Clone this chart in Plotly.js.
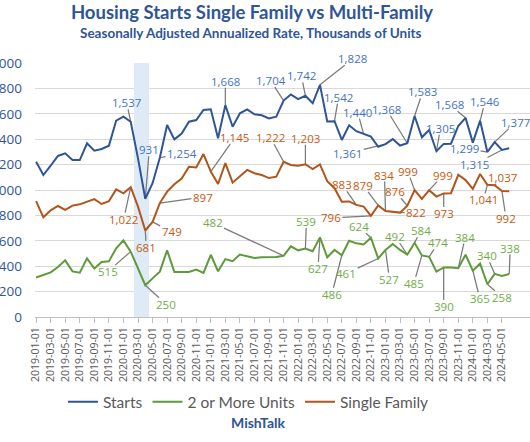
<!DOCTYPE html>
<html>
<head>
<meta charset="utf-8">
<script src="https://cdn.plot.ly/plotly-3.0.1.min.js"></script>
<style>
html,body{margin:0;padding:0;width:530px;height:442px;overflow:hidden;background:#fff;}
#chart{position:absolute;left:-20px;top:0;width:620px;height:442px;}
</style>
</head>
<body>
<div id="chart"></div>
<script>
// ---- data (thousands of units, SAAR) ----
const months = [
"2019-01-01","2019-02-01","2019-03-01","2019-04-01","2019-05-01","2019-06-01","2019-07-01","2019-08-01","2019-09-01","2019-10-01","2019-11-01","2019-12-01",
"2020-01-01","2020-02-01","2020-03-01","2020-04-01","2020-05-01","2020-06-01","2020-07-01","2020-08-01","2020-09-01","2020-10-01","2020-11-01","2020-12-01",
"2021-01-01","2021-02-01","2021-03-01","2021-04-01","2021-05-01","2021-06-01","2021-07-01","2021-08-01","2021-09-01","2021-10-01","2021-11-01","2021-12-01",
"2022-01-01","2022-02-01","2022-03-01","2022-04-01","2022-05-01","2022-06-01","2022-07-01","2022-08-01","2022-09-01","2022-10-01","2022-11-01","2022-12-01",
"2023-01-01","2023-02-01","2023-03-01","2023-04-01","2023-05-01","2023-06-01","2023-07-01","2023-08-01","2023-09-01","2023-10-01","2023-11-01","2023-12-01",
"2024-01-01","2024-02-01","2024-03-01","2024-04-01","2024-05-01","2024-06-01"];

const starts = [1223,1118,1191,1268,1289,1236,1236,1368,1310,1323,1349,1546,
1577,1537,1249,931,1053,1254,1512,1399,1445,1538,1551,1630,
1635,1407,1668,1498,1604,1635,1596,1588,1564,1577,1704,1753,
1716,1742,1683,1828,1540,1542,1394,1510,1463,1440,1420,1340,
1361,1401,1350,1368,1583,1415,1473,1305,1363,1365,1504,1568,
1373,1546,1299,1377,1315,1328];

const multiUnits = [311,333,351,394,446,359,349,462,382,433,438,541,
603,515,380,250,304,357,525,354,355,355,373,347,
490,360,456,440,492,477,464,470,470,472,482,556,
525,539,518,627,470,528,486,600,580,571,624,461,
527,575,528,492,584,485,474,357,390,390,384,490,
365,420,258,340,323,338];

const singleFamily = [912,785,840,874,843,877,887,906,928,890,911,1005,
974,1022,869,681,749,897,987,1045,1090,1183,1178,1283,
1145,1047,1212,1058,1112,1158,1132,1118,1094,1105,1222,1197,
1191,1203,1165,1201,1070,1014,908,910,883,869,796,879,
834,826,822,876,999,930,999,948,973,975,1120,1078,
1008,1126,1041,1037,992,990];

const recessionMonths = ["2020-03-01","2020-04-01"];
const recessionLevel = [2000,2000];

// labelled points (index into months)
const startsLabelIdx = [13,15,17,26,34,37,39,41,45,48,51,52,55,59,61,62,63,64];
const singleLabelIdx = [13,15,16,17,24,34,37,44,46,47,48,50,51,52,54,56,62,63,64];
const multiLabelIdx  = [13,15,34,37,39,42,46,47,48,51,52,53,54,56,58,60,62,63,65];

// ---- label placement (pixel offsets of label centre from point: [dx, dy], dy downwards) ----
const startsOff = {13:[-4,-19],15:[4,-49],17:[22,-4],26:[0,-24],34:[-13,-20],37:[-4,-20],39:[33,-26],
  41:[4,-24],45:[-6,-22],48:[-38,9],51:[-21,-34],52:[8,-24],55:[4,-23],59:[-16,-13],61:[5,-19],
  62:[-23,-4],63:[21,-20],64:[-27,14]};
const singleOff = {13:[-7,32],15:[1,17],16:[19,10],17:[43,-6],24:[24,-34],34:[-13,-24],37:[0,-26],
  44:[-14,-20],46:[-40,2],47:[-15,-20],48:[-1,-36],50:[16,0],51:[-12,-14],52:[-7,-19],54:[14,-15],
  56:[0,20],62:[-4,15],63:[8,-8],64:[4,27]};
const multiOff = {13:[-23,20],15:[21,19],34:[-71,-33],37:[1,-27],39:[-2,31],42:[-10,39],46:[-12,-11],
  47:[-32,15],48:[4,29],51:[-12,-18],52:[6,-12],53:[-8,28],54:[9,-14],56:[0,39],58:[7,-31],
  60:[7,28],62:[15,13],63:[-8,-18],65:[1,-26]};

const C = {
  startsLine:'#2F5597', startsText:'#4472C4',
  multiLine:'#5E9A3A', multiText:'#70AD47',
  singleLine:'#B0551B', singleText:'#C55A11',
  title:'#2F5597', grid:'#D9D9D9', axisText:'#595959', band:'#DEEBF7', leader:'#7A7A7A'
};
const W = 620, H = 442;
const M = {l:55, r:30, t:63, b:125};
const LABEL_SIZE = 11.5;
const X_RANGE = [-0.15, 73.35];
const Y_RANGE = [0, 2000];
const PX_X = (W - M.l - M.r) / (X_RANGE[1] - X_RANGE[0]);
const PX_Y = (H - M.t - M.b) / (Y_RANGE[1] - Y_RANGE[0]);

const fmt = v => v.toLocaleString('en-US');
const idx = months.map((m,i) => i);
const tickIdx = idx.filter(i => i%2===0);
const recessionIdx = recessionMonths.map(m => months.indexOf(m));

function makeLabels(idxs, vals, offs, color){
  return idxs.map(i => ({
    x: i, y: vals[i], xref:'x', yref:'y',
    text: fmt(vals[i]), showarrow:false,
    xshift: offs[i][0], yshift: -offs[i][1], xanchor:'center', yanchor:'middle',
    font:{family:'Open Sans, sans-serif', size:LABEL_SIZE, color:color}
  }));
}

// leader line from each point to the edge of its label box
function leaderTrace(idxs, vals, offs){
  const xs = [], ys = [];
  idxs.forEach(i => {
    const dx = offs[i][0], dy = offs[i][1];
    const txt = fmt(vals[i]);
    const digits = txt.replace(/,/g,'').length;
    const hw = (digits*6.6 + (txt.indexOf(',')>=0 ? 3 : 0))/2 + 1.5;
    const hh = 6.5;
    const sx = dx !== 0 ? hw/Math.abs(dx) : Infinity;
    const sy = dy !== 0 ? hh/Math.abs(dy) : Infinity;
    const t = 1 - Math.min(sx, sy);
    if (t <= 0.08) return;
    xs.push(i, i + dx*t/PX_X, null);
    ys.push(vals[i], vals[i] - dy*t/PX_Y, null);
  });
  return {type:'scatter', mode:'lines', x:xs, y:ys,
    line:{color:C.leader, width:1.25}, showlegend:false, hoverinfo:'skip', connectgaps:false};
}

const traces = [
  {type:'bar', x:recessionIdx, y:recessionLevel, width:1, marker:{color:C.band, line:{width:0}},
   showlegend:false, hoverinfo:'skip'},
  leaderTrace(startsLabelIdx, starts, startsOff),
  leaderTrace(singleLabelIdx, singleFamily, singleOff),
  leaderTrace(multiLabelIdx, multiUnits, multiOff),
  {type:'scatter', mode:'lines', name:'Starts', x:idx, y:starts, line:{color:C.startsLine, width:2}},
  {type:'scatter', mode:'lines', name:'2 or More Units', x:idx, y:multiUnits, line:{color:C.multiLine, width:2}},
  {type:'scatter', mode:'lines', name:'Single Family', x:idx, y:singleFamily, line:{color:C.singleLine, width:2}}
];

const annotations = [].concat(
  makeLabels(startsLabelIdx, starts, startsOff, C.startsText),
  makeLabels(singleLabelIdx, singleFamily, singleOff, C.singleText),
  makeLabels(multiLabelIdx, multiUnits, multiOff, C.multiText),
  [
    {text:'<b>Seasonally Adjusted Annualized Rate, Thousands of Units</b>', xref:'paper', yref:'paper',
     x:0.4036, y:1.118, xanchor:'center', yanchor:'middle', showarrow:false,
     font:{family:'Lato, sans-serif', size:13.5, color:C.title}},
    {text:'<b>MishTalk</b>', xref:'paper', yref:'paper', x:0.416, y:-0.417,
     xanchor:'center', yanchor:'middle', showarrow:false,
     font:{family:'Lato, sans-serif', size:14, color:C.title}}
  ]
);

const layout = {
  width:W, height:H,
  margin:{l:M.l, r:M.r, t:M.t, b:M.b, autoexpand:false},
  paper_bgcolor:'#ffffff', plot_bgcolor:'#ffffff',
  title:{text:'<b>Housing Starts Single Family vs Multi-Family</b>', xref:'container', yref:'container',
    x:0.4387, y:0.972, xanchor:'center', yanchor:'middle',
    font:{family:'Lato, sans-serif', size:18.5, color:C.title}},
  showlegend:true,
  legend:{orientation:'h', xref:'container', yref:'container', x:0.433, y:0.09,
    xanchor:'center', yanchor:'middle', itemwidth:30, traceorder:'normal',
    font:{family:'Lato, sans-serif', size:15.5, color:C.axisText}},
  bargap:0,
  xaxis:{type:'linear', range:X_RANGE, tickmode:'array', tickvals:tickIdx,
    ticktext:tickIdx.map(i => months[i]),
    tickangle:-90, ticks:'outside', ticklen:5, tickcolor:'#BFBFBF',
    showline:true, linecolor:'#BFBFBF', linewidth:1, showgrid:false, zeroline:false,
    tickfont:{family:'Open Sans, sans-serif', size:10.5, color:C.axisText}},
  yaxis:{range:Y_RANGE, dtick:200, tickformat:',', showgrid:true, gridcolor:C.grid, gridwidth:1,
    zeroline:false, showline:false, ticks:'', ticklabelstandoff:12,
    tickfont:{family:'Open Sans, sans-serif', size:13.5, color:C.title}},
  annotations:annotations,
  hovermode:false
};

Plotly.newPlot('chart', traces, layout, {staticPlot:true, displayModeBar:false});
</script>
</body>
</html>
